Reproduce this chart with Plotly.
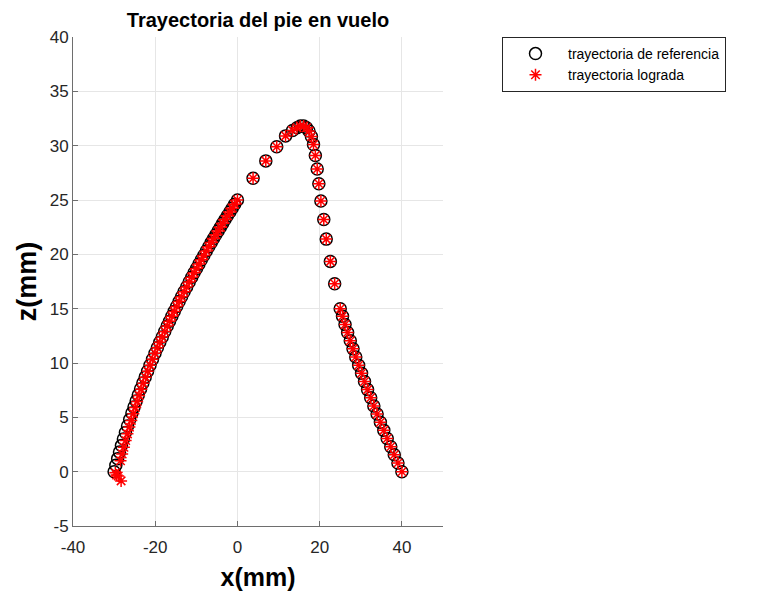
import plotly.graph_objects as go

# Reference foot trajectory (mm): rising branch, swing arc, falling branch
ref_x_rise = [-30.0, -29.58, -29.14, -28.69, -28.22, -27.74, -27.25, -26.73, -26.21, -25.67,
              -25.16, -24.64, -24.12, -23.57, -23.01, -22.44, -21.86, -21.27, -20.66, -20.05,
              -19.48, -18.89, -18.29, -17.69, -17.08, -16.52, -15.95, -15.38, -14.79, -14.19,
              -13.59, -12.98, -12.36, -11.74, -11.11, -10.54, -9.95, -9.37, -8.78, -8.18,
              -7.58, -6.97, -6.36, -5.81, -5.26, -4.70, -4.14, -3.58, -3.01, -2.44,
              -1.85, -1.27, -0.68, 0.0]
ref_z_rise = [0.0, 0.6, 1.2, 1.8, 2.4, 3.0, 3.6, 4.2, 4.8, 5.4,
              5.95, 6.5, 7.05, 7.6, 8.15, 8.7, 9.25, 9.8, 10.35, 10.9,
              11.4, 11.9, 12.4, 12.9, 13.4, 13.85, 14.3, 14.75, 15.2, 15.65,
              16.1, 16.55, 17.0, 17.45, 17.9, 18.3, 18.7, 19.1, 19.5, 19.9,
              20.3, 20.7, 21.1, 21.45, 21.8, 22.15, 22.5, 22.85, 23.2, 23.55,
              23.9, 24.25, 24.6, 25.0]

ref_x_arc = [3.8, 6.9, 9.55, 11.7, 13.4, 14.5, 15.3, 16.1, 16.8, 17.4,
             18.0, 18.5, 18.95, 19.4, 19.8, 20.3, 21.0, 21.6, 22.6, 23.65]
ref_z_arc = [27.0, 28.6, 29.9, 30.9, 31.4, 31.65, 31.8, 31.8, 31.65, 31.35,
             30.85, 30.1, 29.1, 27.85, 26.5, 24.9, 23.2, 21.4, 19.35, 17.3]

ref_x_fall = [25.0, 25.56, 26.17, 26.80, 27.45, 28.11, 28.78, 29.48, 30.19, 30.91,
              31.65, 32.41, 33.18, 33.97, 34.77, 35.60, 36.43, 37.29, 38.15, 39.04, 40.0]
ref_z_fall = [15.0, 14.3, 13.55, 12.8, 12.05, 11.3, 10.55, 9.8, 9.05, 8.3,
              7.55, 6.8, 6.05, 5.3, 4.55, 3.8, 3.05, 2.3, 1.55, 0.8, 0.0]

# Achieved foot trajectory (mm)
got_x_rise = [-29.7, -29.4, -29.0, -28.3,
              -28.44, -28.04, -27.62, -27.19, -26.75, -26.28, -25.81, -25.32, -24.86, -24.39,
              -23.92, -23.42, -22.91, -22.36, -21.81, -21.22, -20.66, -20.05, -19.48,
              -18.89, -18.29, -17.69, -17.08, -16.52, -15.95, -15.38, -14.79, -14.19, -13.59,
              -12.98, -12.36, -11.74, -11.11, -10.54, -9.95, -9.37, -8.78, -8.18, -7.58,
              -6.97, -6.36, -5.81, -5.26, -4.70, -4.14, -3.58, -3.01, -2.44, -1.85,
              -1.27, -0.68, 0.0]
got_z_rise = [-0.1, -0.3, -0.4, -0.85,
              1.0, 1.62, 2.24, 2.86, 3.48, 4.1, 4.72, 5.34, 5.9, 6.46,
              7.02, 7.58, 8.14, 8.69, 9.24, 9.79, 10.35, 10.9, 11.4,
              11.9, 12.4, 12.9, 13.4, 13.85, 14.3, 14.75, 15.2, 15.65, 16.1,
              16.55, 17.0, 17.45, 17.9, 18.3, 18.7, 19.1, 19.5, 19.9, 20.3,
              20.7, 21.1, 21.45, 21.8, 22.15, 22.5, 22.85, 23.2, 23.55, 23.9,
              24.25, 24.6, 25.0]

got_x_arc = [3.8, 6.9, 9.55, 11.7, 13.4, 14.5, 15.3, 16.1, 16.8, 17.4,
             18.0, 18.5, 18.95, 19.4, 19.8, 20.3, 21.0, 21.6, 22.6, 23.65]
got_z_arc = [27.0, 28.6, 29.9, 30.9, 31.4, 31.65, 31.8, 31.8, 31.65, 31.35,
             30.85, 30.1, 29.1, 27.85, 26.5, 24.9, 23.2, 21.4, 19.35, 17.3]

got_x_fall = [25.0, 25.56, 26.17, 26.80, 27.45, 28.11, 28.78, 29.48, 30.19, 30.91,
              31.65, 32.41, 33.18, 33.97, 34.77, 35.60, 36.43, 37.29, 38.15, 39.04, 40.0]
got_z_fall = [15.0, 14.3, 13.55, 12.8, 12.05, 11.3, 10.55, 9.8, 9.05, 8.3,
              7.55, 6.8, 6.05, 5.3, 4.55, 3.8, 3.05, 2.3, 1.55, 0.8, 0.0]

x_ticks = [-40, -20, 0, 20, 40]
x_tick_text = ["-40", "-20", "0", "20", "40"]
z_ticks = [-5, 0, 5, 10, 15, 20, 25, 30, 35, 40]
z_tick_text = ["-5", "0", "5", "10", "15", "20", "25", "30", "35", "40"]

FONT = "Liberation Sans, Arial, sans-serif"
INK = "#262626"

fig = go.Figure()
fig.add_trace(go.Scatter(
    x=ref_x_rise + ref_x_arc + ref_x_fall,
    y=ref_z_rise + ref_z_arc + ref_z_fall,
    mode="markers",
    name="trayectoria de referencia",
    marker=dict(symbol="circle-open", size=12, color="black",
                line=dict(color="black", width=1.5)),
))
fig.add_trace(go.Scatter(
    x=got_x_rise + got_x_arc + got_x_fall,
    y=got_z_rise + got_z_arc + got_z_fall,
    mode="markers",
    name="trayectoria lograda",
    marker=dict(symbol="asterisk-open", size=10, color="#ff0000",
                line=dict(color="#ff0000", width=1.5)),
))

axis_common = dict(
    showgrid=True, gridcolor="#e6e6e6", gridwidth=1,
    showline=True, linecolor="#6e6e6e", linewidth=1, mirror=False,
    ticks="inside", ticklen=5, tickcolor="#6e6e6e",
    tickfont=dict(family=FONT, size=17, color=INK),
    zeroline=False, automargin=False,
)

fig.update_layout(
    width=760, height=592,
    margin=dict(l=73, r=317, t=37, b=66),
    paper_bgcolor="white", plot_bgcolor="white",
    title=dict(text="<b>Trayectoria del pie en vuelo</b>",
               font=dict(family=FONT, size=20, color="black"),
               x=(73 + 443) / 2 / 760, xanchor="center",
               y=1 - 20 / 592, yanchor="middle"),
    xaxis=dict(range=[-40, 50], tickvals=x_ticks, ticktext=x_tick_text,
               ticklabelstandoff=6,
               title=dict(text="<b>x(mm)</b>", font=dict(family=FONT, size=25, color="black"),
                          standoff=12),
               **axis_common),
    yaxis=dict(range=[-5, 40], tickvals=z_ticks, ticktext=z_tick_text,
               title=dict(text="<b>z(mm)</b>", font=dict(family=FONT, size=27, color="black"),
                          standoff=5),
               **axis_common),
    legend=dict(x=(502 - 73) / 370, xanchor="left", y=1, yanchor="top",
                bordercolor=INK, borderwidth=1, bgcolor="white",
                font=dict(family=FONT, size=14, color="black"),
                itemwidth=55, tracegroupgap=0,
                entrywidth=190, entrywidthmode="pixels"),
    showlegend=True,
)

fig.write_html("out.html")
